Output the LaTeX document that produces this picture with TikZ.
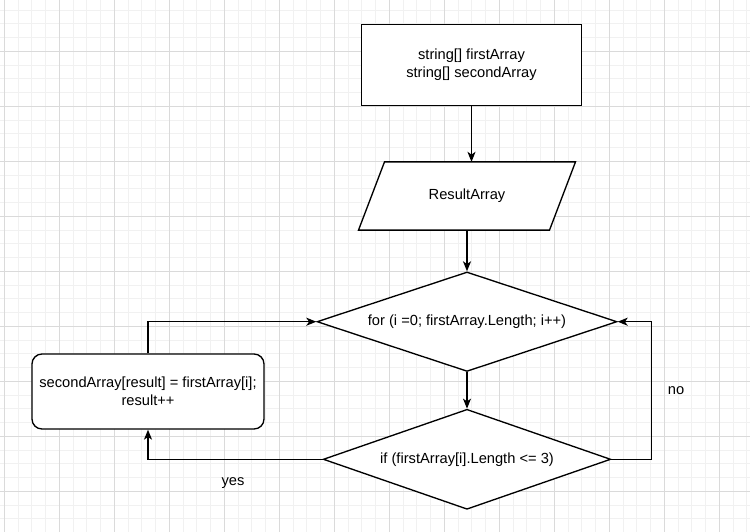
\documentclass[tikz,border=0pt]{standalone}
\usepackage{fontspec}
\setmainfont{Liberation Sans}
\usepackage{xcolor}
\definecolor{flowDark}{HTML}{000000}
\definecolor{flowGridMajor}{HTML}{DADADA}
\definecolor{flowGridMinor}{HTML}{F1F1F1}
\usepackage{tikz}
\usetikzlibrary{shapes.geometric,arrows.meta,positioning,calc,backgrounds}
\tikzset{
    databox/.style={
        draw=flowDark,
        fill=white,
        rectangle,
        align=center,
        minimum width=165pt,
        minimum height=61pt,
        line width=1pt,
        font=\fontsize{11}{13.5}\selectfont
    },
    iobox/.style={
        rectangle,
        align=center,
        minimum width=162.75pt,
        minimum height=51.2pt,
        inner sep=0pt,
        outer sep=0pt,
        font=\fontsize{11}{13.5}\selectfont
    },
    ioframe/.style={
        draw=flowDark,
        fill=white,
        line width=1pt,
        line join=miter
    },
    decision/.style={
        draw=flowDark,
        fill=white,
        diamond,
        aspect=3,
        align=center,
        inner sep=0pt,
        line width=1pt,
        font=\fontsize{11}{13.5}\selectfont
    },
    process/.style={
        draw=flowDark,
        fill=white,
        rectangle,
        rounded corners=7.5pt,
        align=center,
        minimum width=174pt,
        minimum height=56.25pt,
        line width=1pt,
        font=\fontsize{11}{13.5}\selectfont
    },
    arrow/.style={
        -{Stealth[length=7.5pt,width=6pt,inset=2pt]},
        line width=1pt,
        color=flowDark
    },
    label/.style={
        font=\fontsize{11}{13.5}\selectfont,
        inner sep=1pt
    }
}

\begin{document}
\begin{tikzpicture}[x=0.75pt, y=-0.75pt]
    \useasboundingbox (0,0) rectangle (750,532);

    \node[databox] (arrays) at (471.5,65) {string[] firstArray\\string[] secondArray};
    \node[iobox] (result) at (467,196) {ResultArray};
    \node[decision, minimum width=225pt, minimum height=74.6pt] (loop) at (467,321.7) {for (i =0; firstArray.Length; i++)};
    \node[decision, minimum width=215.6pt, minimum height=75pt] (check) at (467,459.3) {if (firstArray[i].Length <= 3)};
    \node[process] (copy) at (148,391.5) {secondArray[result] = firstArray[i];\\result++};
    \node[label] (yes) at (233,483) {yes};
    \node[label] (no) at (676,391) {no};

    \draw[arrow] (arrays.south) -- (arrays.south |- result.north);
    \draw[arrow] (result.south) -- (loop.north);
    \draw[arrow] (loop.south) -- (check.north);
    \draw[arrow] (check.east) -- ++(40,0) |- (loop.east);
    \draw[arrow] (check.west) -| (copy.south);
    \draw[arrow] (copy.north) |- (loop.west);

    \begin{scope}[on background layer]
        % grid
        \foreach \i in {0,...,54} {
            \draw[flowGridMinor, line width=0.75pt] ({4.3+13.75*\i},0) -- ({4.3+13.75*\i},532);
        }
        \foreach \i in {0,...,38} {
            \draw[flowGridMinor, line width=0.75pt] (0,{10.05+13.75*\i}) -- (750,{10.05+13.75*\i});
        }
        \foreach \i in {0,...,13} {
            \draw[flowGridMajor, line width=0.75pt] ({4.3+55*\i},0) -- ({4.3+55*\i},532);
        }
        \foreach \i in {1,...,10} {
            \draw[flowGridMajor, line width=0.75pt] (0,{-3.7+55*\i}) -- (750,{-3.7+55*\i});
        }
        % slanted frame of the data node
        \draw[ioframe] (result.south west) -- ($(result.north west)+(26,0)$)
            -- (result.north east) -- ($(result.south east)-(26,0)$) -- cycle;
    \end{scope}
\end{tikzpicture}
\end{document}
